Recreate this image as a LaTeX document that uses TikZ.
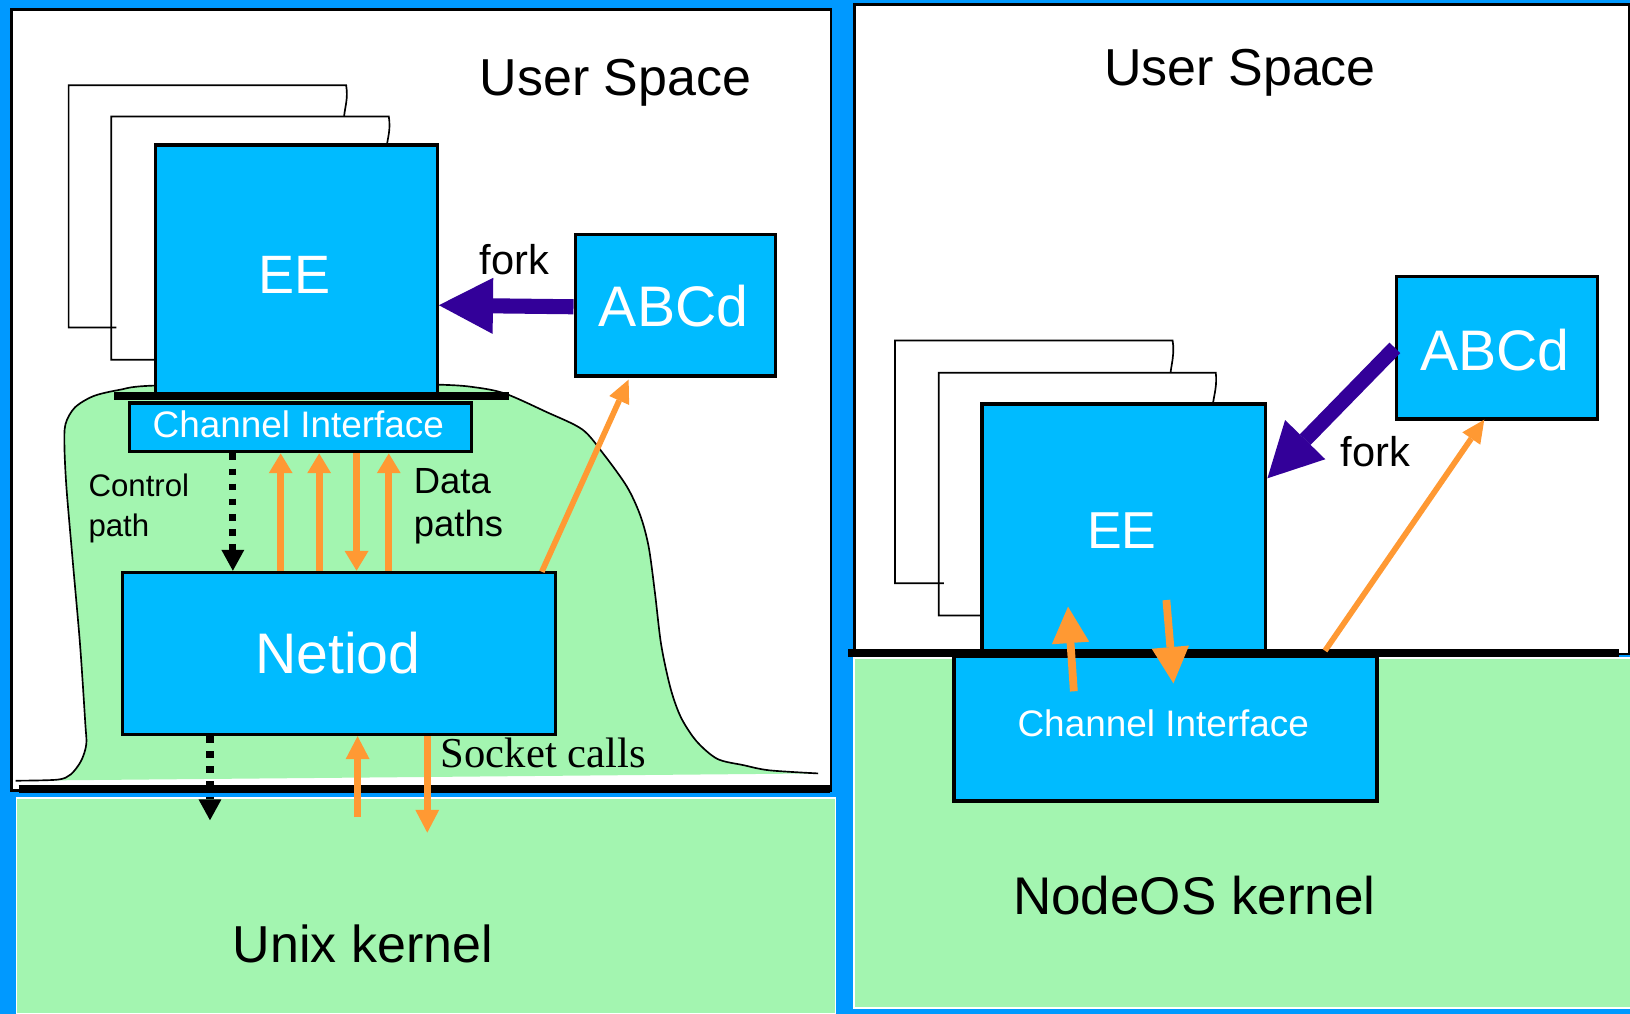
\documentclass[tikz,border=0pt]{standalone}
\usepackage{fontspec}
\setmainfont{Liberation Sans}
\newfontfamily\seriffont{Liberation Serif}
\usetikzlibrary{arrows.meta,calc}
\definecolor{bgblue}{RGB}{0,153,255}
\definecolor{boxblue}{RGB}{0,187,255}
\definecolor{kgreen}{RGB}{163,245,176}
\definecolor{orng}{RGB}{255,153,51}
\definecolor{purp}{RGB}{51,0,153}
\newcommand{\fs}[1]{\fontsize{#1}{#1}\selectfont}
\begin{document}
\begin{tikzpicture}[x=1pt,y=-1pt,
  panel/.style={draw=black,line width=2.5pt,fill=white,inner sep=0pt,anchor=north west},
  kern/.style={draw=white,line width=1.5pt,fill=kgreen,inner sep=0pt,anchor=north west},
  box/.style={draw=black,line width=3.2pt,fill=boxblue,inner sep=0pt,anchor=north west},
  txt/.style={inner sep=0pt,anchor=base},
  wtxt/.style={txt,text=white},
  frame/.style={draw=black,line width=1.6pt},
  oarrow/.style={draw=orng,line width=7pt,-{Triangle[length=19pt,width=23pt,line width=0pt]}},
  oarrowb/.style={draw=orng,line width=7pt,-{Triangle[length=22pt,width=23pt,line width=0pt]}},
  odiag/.style={draw=orng,line width=5.5pt,-{Triangle[length=22pt,width=21pt,line width=0pt]}},
  obig/.style={draw=orng,line width=7.5pt,-{Triangle[length=35pt,width=36pt,line width=0pt]}},
  forka/.style={draw=purp,line width=14.5pt,-{Triangle[length=52pt,width=54pt,line width=0pt]}},
  ctrl/.style={draw=black,line width=7pt,dash pattern=on 6.5pt off 8pt,-{Triangle[length=20pt,width=22pt,line width=0pt]}}]
\useasboundingbox (0,0) rectangle (1568,975);
\fill[bgblue] (0,0) rectangle (1568,975);

% panels
\node[panel,minimum width=788pt,minimum height=751pt] (lpanel) at (10,8) {};
\node[panel,minimum width=745pt,minimum height=625pt] (rpanel) at (821,3) {};
\node[kern,minimum width=788pt,minimum height=207pt] (lkern) at (15,767) {};
\node[kern,minimum width=747pt,minimum height=337pt] (rkern) at (821,632) {};

% green blob (left)
\fill[kgreen] plot[smooth] coordinates {(15,751) (55,750) (68,745) (78,732) (83,716) (82,695) (77,620) (70,540) (64,470) (62,430) (63,408) (72,392) (90,381) (115,375) (146,371) (280,368) (421,370) (460,373) (487,379) (525,396) (560,413) (580,436) (603,468) (616,496) (624,526) (630,570) (636,620) (645,662) (655,690) (670,713) (690,730) (715,736) (740,741) (787,744)} -- cycle;
\draw[line width=1.6pt] plot[smooth] coordinates {(15,751) (55,750) (68,745) (78,732) (83,716) (82,695) (77,620) (70,540) (64,470) (62,430) (63,408) (72,392) (90,381) (115,375) (146,371) (280,368) (421,370) (460,373) (487,379) (525,396) (560,413) (580,436) (603,468) (616,496) (624,526) (630,570) (636,620) (645,662) (655,690) (670,713) (690,730) (715,736) (740,741) (787,744)};

% thick separator line (left)
\draw[line width=7.5pt] (18,759) -- (798,759);

% back frames
\draw[frame] (112,315) -- (66,315) -- (66,82) -- (333,82) .. controls (335,95) and (332,102) .. (331,112);
\draw[frame] (153,346) -- (107,346) -- (107,112) -- (374,112) .. controls (376,125) and (373,132) .. (372,141);
\draw[frame] (908,561) -- (861,561) -- (861,327.5) -- (1128,327.5) .. controls (1130,340) and (1127,350) .. (1126,358.5);
\draw[frame] (948,592) -- (903,592) -- (903,358.5) -- (1169.5,358.5) .. controls (1171,370) and (1168,380) .. (1167,387);

% boxes
\node[box,minimum width=271pt,minimum height=240pt] (ee1) at (148,138) {};
\node[box,minimum width=193pt,minimum height=136pt] (abcd1) at (551.7,224) {};
\node[box,minimum width=329pt,minimum height=47pt] (ci1) at (123,386) {};
\node[box,minimum width=417pt,minimum height=156pt] (nd) at (116,549) {};
\node[box,minimum width=273pt,minimum height=241pt] (ee2) at (943,387) {};
\node[box,minimum width=193.6pt,minimum height=137pt] (abcd2) at (1341.8,264.5) {};
\node[box,minimum width=407pt,minimum height=139pt] (ci2) at (916,630) {};

\draw[line width=7.5pt] (110,381) -- (490,381);
\draw[line width=7.5pt] (816,628.5) -- (1557,628.5);

% texts
\node[txt,font=\fs{50}] (us1) at (592,92) {User Space};
\node[txt,font=\fs{50}] (us2) at (1193,82) {User Space};
\node[wtxt,font=\fs{52}] (ee1t) at (283,282) {EE};
\node[wtxt,font=\fs{55}] (abcd1t) at (648,314) {ABCd};
\node[txt,font=\fs{40}] (fork1) at (495,264) {fork};
\node[wtxt,font=\fs{35.5}] (ci1t) at (287,421) {Channel Interface};
\node[txt,font=\fs{30},anchor=base west] (ctl1) at (85,478) {Control};
\node[txt,font=\fs{30},anchor=base west] (ctl2) at (85,516) {path};
\node[txt,font=\fs{35},anchor=base west] (dp1) at (398,475) {Data};
\node[txt,font=\fs{35},anchor=base west] (dp2) at (398,516) {paths};
\node[wtxt,font=\fs{55}] (ndt) at (325,648) {Netiod};
\node[txt,font=\seriffont\fs{41},anchor=base west] (sock) at (424,738) {Socket calls};
\node[txt,font=\fs{50}] (unix) at (349,926) {Unix kernel};
\node[wtxt,font=\fs{50}] (ee2t) at (1079,528) {EE};
\node[wtxt,font=\fs{55}] (abcd2t) at (1438,356) {ABCd};
\node[txt,font=\fs{40}] (fork2) at (1323,449) {fork};
\node[wtxt,font=\fs{35.5}] (ci2t) at (1119,708) {Channel Interface};
\node[txt,font=\fs{51}] (nos) at (1149,880) {NodeOS kernel};

% fork arrows
\draw[forka] ($(abcd1.west)+(0,1.5)$) -- ($(ee1.east)+(0,34)$);
\draw[forka] (abcd2.west) -- ($(ee2.east)+(0,-49)$);

% left: channel interface <-> netiod
\draw[ctrl] (224,0 |- ci1.south) -- (224,0 |- nd.north);
\draw[oarrow] (270,0 |- nd.north) -- (270,0 |- ci1.south);
\draw[oarrow] (307,0 |- nd.north) -- (307,0 |- ci1.south);
\draw[oarrow] (343,0 |- ci1.south) -- (343,0 |- nd.north);
\draw[oarrow] (374,0 |- nd.north) -- (374,0 |- ci1.south);
\draw[odiag] ($(nd.north east)+(-15,1)$) -- ($(abcd1.south west)+(53,2)$);

% left: netiod <-> kernel
\coordinate (cend) at (202,789);
\coordinate (supst) at (344,786);
\coordinate (sdnend) at (411,801);
\draw[ctrl] (202,0 |- nd.south) -- (cend);
\draw[oarrowb] (supst) -- (344,0 |- nd.south);
\draw[oarrowb] (411,0 |- nd.south) -- (sdnend);

% right panel arrows
\coordinate (rfoot) at (1274.6,626);
\draw[odiag] (rfoot) -- ($(abcd2.south west)+(86,-1)$);
\draw[obig] ($(ci2.north west)+(117,35)$) -- ($(ee2.south west)+(84.4,-47.6)$);
\draw[obig] ($(ee2.south west)+(179,-54)$) -- ($(ci2.north west)+(212.8,27.4)$);
\end{tikzpicture}
\end{document}
